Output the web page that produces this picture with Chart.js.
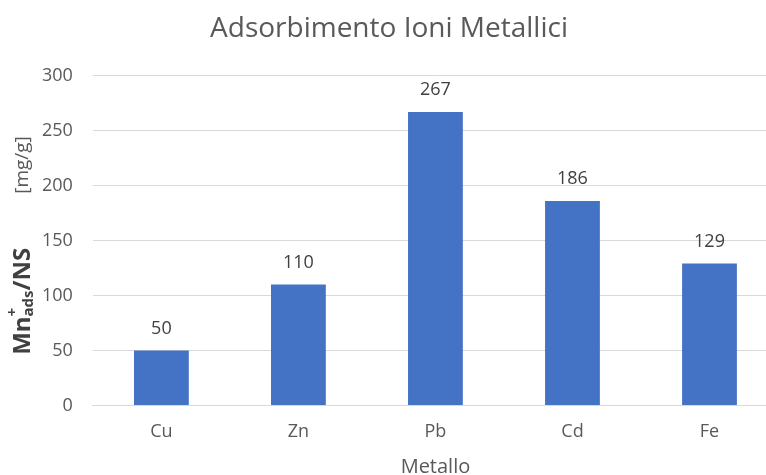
<!DOCTYPE html>
<html>
<head>
<meta charset="utf-8">
<script src="https://cdn.jsdelivr.net/npm/chart.js@4.4.1/dist/chart.umd.min.js"></script>
<style>
  html, body { margin: 0; padding: 0; background: #fff; overflow: hidden; }
  #wrap { width: 778px; height: 475px; }
</style>
</head>
<body>
<div id="wrap"><canvas id="adsChart" width="778" height="475"></canvas></div>
<script>
const metalli = ['Cu', 'Zn', 'Pb', 'Cd', 'Fe'];
const adsorbimento = [50, 110, 267, 186, 129];
const yTicks = [0, 50, 100, 150, 200, 250, 300];

const FONT = "'Open Sans', 'Noto Sans', sans-serif";
const GREY = '#595959';

// value labels above each bar
const valueLabels = {
    id: 'valueLabels',
    afterDatasetsDraw(chart) {
        const ctx = chart.ctx;
        const meta = chart.getDatasetMeta(0);
        ctx.save();
        ctx.font = `18px ${FONT}`;
        ctx.fillStyle = '#404040';
        ctx.textAlign = 'center';
        ctx.textBaseline = 'middle';
        meta.data.forEach((bar, i) => {
            ctx.fillText(String(adsorbimento[i]), bar.x, bar.y - 22);
        });
        ctx.restore();
    }
};

// rotated y title with superscript / subscript parts
const yTitle = {
    id: 'yTitle',
    afterDraw(chart) {
        const ctx = chart.ctx;
        const area = chart.chartArea;
        const parts = [
            { t: 'Mn', f: `bold 24px ${FONT}`, dy: 0 },
            { t: '+', f: `bold 15px ${FONT}`, dy: -10, stack: true },
            { t: 'ads', f: `bold 15px ${FONT}`, dy: 6 },
            { t: '/NS', f: `bold 24px ${FONT}`, dy: 0 },
            { t: '', gap: 54 },
            { t: '[mg/g]', f: `19px ${FONT}`, dy: 0 }
        ];
        ctx.save();
        let total = 0;
        parts.forEach(p => {
            if (p.gap) { p.w = p.gap; }
            else { ctx.font = p.f; p.w = p.stack ? 0 : ctx.measureText(p.t).width; }
            total += p.w;
        });
        ctx.translate(23, (area.top + area.bottom) / 2 + 5);
        ctx.rotate(-Math.PI / 2);
        ctx.textBaseline = 'middle';
        ctx.textAlign = 'left';
        let x = -total / 2;
        parts.forEach(p => {
            if (p.t) {
                ctx.font = p.f;
                ctx.fillStyle = p.f.startsWith('bold') ? '#404040' : GREY;
                ctx.fillText(p.t, x, p.dy);
            }
            x += p.w;
        });
        ctx.restore();
    }
};

new Chart(document.getElementById('adsChart'), {
    type: 'bar',
    data: {
        labels: metalli,
        datasets: [{
            data: adsorbimento,
            backgroundColor: '#4472C4',
            barPercentage: 0.4,
            categoryPercentage: 1
        }]
    },
    options: {
        responsive: false,
        animation: false,
        layout: { padding: { left: 0, right: 0, top: 0, bottom: -4 } },
        scales: {
            x: {
                grid: { display: false },
                border: { color: '#D9D9D9' },
                ticks: { color: GREY, font: { family: FONT, size: 18 }, padding: 8 },
                title: { display: true, text: 'Metallo', color: GREY, font: { family: FONT, size: 20 }, padding: { top: 4, bottom: 0 } }
            },
            y: {
                min: 0,
                max: 300,
                afterBuildTicks(axis) { axis.ticks = yTicks.map(v => ({ value: v })); },
                // room for the hand-drawn axis title
                afterFit(axis) { axis.width += 22; },
                grid: { color: '#D9D9D9', drawTicks: false },
                border: { display: false },
                ticks: { color: GREY, font: { family: FONT, size: 18 }, padding: 20 }
            }
        },
        plugins: {
            legend: { display: false },
            tooltip: { enabled: false },
            title: {
                display: true,
                text: 'Adsorbimento Ioni Metallici',
                color: GREY,
                font: { family: FONT, size: 28, weight: 'normal' },
                padding: { top: 12, bottom: 30 }
            }
        }
    },
    plugins: [valueLabels, yTitle]
});
</script>
</body>
</html>
